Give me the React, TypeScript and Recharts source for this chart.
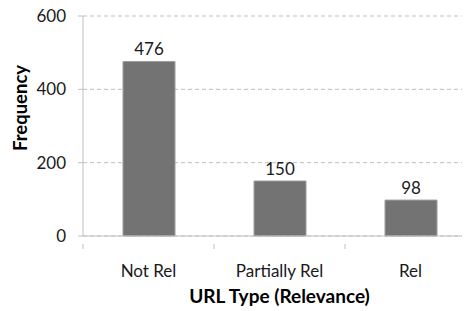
import { BarChart, Bar, XAxis, YAxis, CartesianGrid, LabelList, Label } from 'recharts'

const categories = ['Not Rel', 'Partially Rel', 'Rel']
const frequencies = [476, 150, 98]
const yTicks = [0, 200, 400, 600]

const data = categories.map((name, i) => ({ name, value: frequencies[i] }))

const FONT = 'Lato, "Open Sans", sans-serif'
const AXIS_GREY = '#bfbfbf'

// plot spans x 83..476, three bands
const BAND = (476 - 83) / categories.length

const CategoryTick = ({ x, y, payload }: any) => (
  <g>
    <line x1={x - BAND / 2} y1={y} x2={x - BAND / 2} y2={y + 5} stroke={AXIS_GREY} strokeWidth={1} />
    <text x={x} y={y + 33} textAnchor="middle" fontFamily={FONT} fontSize={17} fill="#1a1a1a">
      {payload.value}
    </text>
  </g>
)

export default function App() {
  return (
    <div style={{ width: 470, height: 311, overflow: 'hidden', margin: '-8px 0 0 -8px', background: '#fff' }}>
      <BarChart
        width={476}
        height={311}
        data={data}
        margin={{ top: 16, right: 0, left: 0, bottom: 0 }}
      >
        <CartesianGrid vertical={false} stroke={AXIS_GREY} strokeDasharray="4 3" />
        <XAxis
          dataKey="name"
          height={75}
          axisLine={{ stroke: AXIS_GREY }}
          tickLine={false}
          tick={<CategoryTick />}
          interval={0}
        >
          <Label
            value="URL Type (Relevance)"
            position="insideBottom"
            offset={8}
            style={{ fontFamily: FONT, fontSize: 19, fontWeight: 700, fill: '#000' }}
          />
        </XAxis>
        <YAxis
          width={83}
          domain={[0, 600]}
          ticks={yTicks}
          axisLine={{ stroke: AXIS_GREY }}
          tickLine={{ stroke: AXIS_GREY }}
          tickSize={5}
          tickMargin={12}
          tick={{ fontFamily: FONT, fontSize: 17, fill: '#1a1a1a' }}
        >
          <Label
            content={() => (
              <text
                x={0}
                y={0}
                transform="translate(27, 108) rotate(-90)"
                textAnchor="middle"
                fontFamily={FONT}
                fontSize={18.5}
                fontWeight={700}
                fill="#000"
              >
                Frequency
              </text>
            )}
          />
        </YAxis>
        <Bar dataKey="value" fill="#737373" stroke="#9e9e9e" strokeWidth={1} barSize={52} isAnimationActive={false}>
          <LabelList dataKey="value" position="top" offset={6} style={{ fontFamily: FONT, fontSize: 17, fill: '#1a1a1a' }} />
        </Bar>
      </BarChart>
    </div>
  )
}
